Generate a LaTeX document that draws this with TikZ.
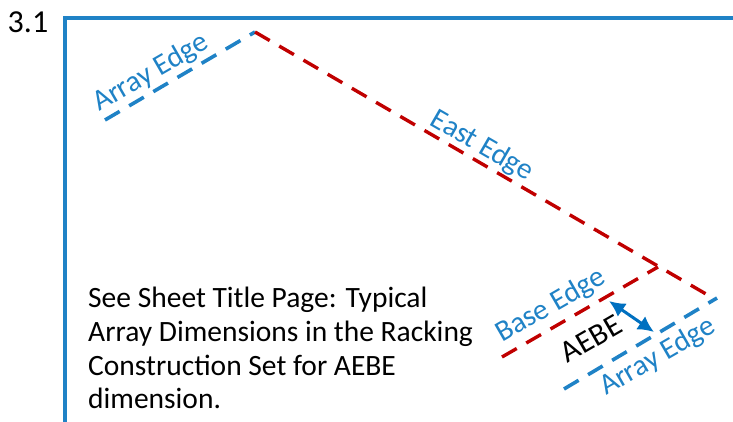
\documentclass[tikz,border=0pt]{standalone}
\usepackage{fontspec}
\setmainfont{Carlito}
\definecolor{framebl}{HTML}{1F82C6}
\definecolor{arrowbl}{HTML}{0070C0}
\definecolor{edgered}{HTML}{C00000}
\usetikzlibrary{arrows.meta}
\tikzset{
 x=1pt,y=-1pt,
 bluedash/.style={draw=framebl,line width=3.6pt,dash pattern=on 17pt off 11pt},
 reddash/.style={draw=edgered,line width=3.4pt,dash pattern=on 17pt off 11pt},
 lab/.style={text=framebl,font=\fontsize{29.5}{29.5}\selectfont,inner sep=0pt},
 plain/.style={text=black,font=\fontsize{29.5}{29.5}\selectfont,inner sep=0pt},
}
\begin{document}
\begin{tikzpicture}
\useasboundingbox (0,0) rectangle (733,422);
\coordinate (fa) at (65,422); \coordinate (fb) at (65,18); \coordinate (fc) at (733,18);
\coordinate (apex) at (255,32); \coordinate (al) at (105,120);
\coordinate (er) at (706,294);
\coordinate (bl) at (502,357); \coordinate (br) at (658,267);
\coordinate (ll) at (564,389); \coordinate (lr) at (717,298);
\coordinate (aa) at (609,301); \coordinate (ab) at (654,332);
\draw[framebl,line width=4.4pt,line cap=rect] (fa) -- (fb) -- (fc);
\draw[bluedash] (al) -- (apex);
\draw[reddash] (apex) -- (er);
\draw[reddash] (bl) -- (br);
\draw[bluedash] (ll) -- (lr);
\draw[arrowbl,line width=3pt,{Latex[length=16pt,width=16pt]}-{Latex[length=16pt,width=16pt]}] (aa) -- (ab);
\node[plain,font=\fontsize{32}{32}\selectfont] (num) at (28,22) {3.1};
\node[lab,rotate=30] (ae1) at (151,73) {Array Edge};
\node[lab,rotate=-30] (ee) at (482,146) {East Edge};
\node[lab,rotate=30] (be) at (551,306) {Base Edge};
\node[lab,rotate=30] (ae2) at (658,357) {Array Edge};
\node[plain,rotate=30,font=\fontsize{31}{31}\selectfont] (ae) at (591,339) {AEBE};
\node[plain,anchor=north west,align=left,font=\fontsize{29.5}{33.7}\selectfont] (note) at (88,287) {See Sheet Title Page: Typical\\Array Dimensions in the Racking\\Construction Set for AEBE\\dimension.};
\end{tikzpicture}
\end{document}
